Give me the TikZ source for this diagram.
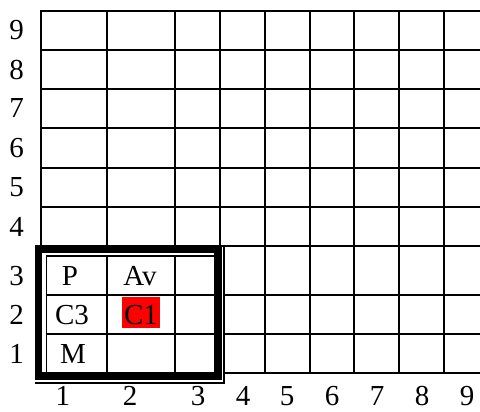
\documentclass[tikz,border=0pt]{standalone}
\usepackage{fontspec}
\setmainfont{Liberation Serif}
\usepackage{xcolor}

\tikzset{
  gridline/.style={line width=2pt, line cap=rect, black},
  frameline/.style={line width=7.5pt, black},
  thinline/.style={line width=1.7pt, line cap=rect, black},
  lbl/.style={inner sep=0pt, font=\fontsize{29}{29}\selectfont},
}

\begin{document}
\begin{tikzpicture}[x=1pt, y=-1pt]
    \useasboundingbox (0,0) rectangle (480,412);
    \begin{scope}
    \clip (0,0) rectangle (480,412);

    % Upper grid (rows 4 to 9)
    \foreach \x in {40.7,107.3,175,220,265,310,354,399,444,489}
        \draw[gridline] (\x,11) -- (\x,246);
    \foreach \y in {11,50,89,128,168,207,246}
        \draw[gridline] (40.7,\y) -- (490,\y);

    % Lower grid right of the frame
    \foreach \x in {265,310,354,399,444,489}
        \draw[gridline] (\x,246) -- (\x,372.5);
    \foreach \y in {295,334,372.5}
        \draw[gridline] (224.2,\y) -- (490,\y);
    \end{scope}

    % Highlighted cell
    \fill[red] (122,297.3) rectangle (160,328.3);

    % Inner table
    \draw[thinline] (46.5,372.3) -- (46.5,256.3) -- (214.3,256.3);
    \foreach \x in {107.3,175}
        \draw[thinline] (\x,256.3) -- (\x,372.3);
    \foreach \y in {295,334}
        \draw[thinline] (46.5,\y) -- (214.3,\y);

    % Frame
    \draw[frameline] (38.3,249.2) rectangle (218,376.2);
    \draw[line width=1.7pt] (224.2,245) -- (224.2,383.2) -- (35,383.2);

    % Row labels
    \node[lbl] (r9) at (16.5,30.5) {9};
    \node[lbl] (r8) at (16.5,69.5) {8};
    \node[lbl] (r7) at (16.5,108.5) {7};
    \node[lbl] (r6) at (16.5,148) {6};
    \node[lbl] (r5) at (16.5,187.5) {5};
    \node[lbl] (r4) at (16.5,226.5) {4};
    \node[lbl] (r3) at (16.5,276) {3};
    \node[lbl] (r2) at (16.5,315) {2};
    \node[lbl] (r1) at (16.5,354) {1};

    % Column labels
    \node[lbl] (c1) at (63,396) {1};
    \node[lbl] (c2) at (130,396) {2};
    \node[lbl] (c3) at (198,396) {3};
    \node[lbl] (c4) at (243,396) {4};
    \node[lbl] (c5) at (287,396) {5};
    \node[lbl] (c6) at (332,396) {6};
    \node[lbl] (c7) at (377,396) {7};
    \node[lbl] (c8) at (422,396) {8};
    \node[lbl] (c9) at (467,396) {9};

    % Cell entries
    \node[lbl] (P) at (70,276) {P};
    \node[lbl] (Av) at (140,276) {Av};
    \node[lbl] (C3) at (72,315) {C3};
    \node[lbl] (C1) at (141,315) {C1};
    \node[lbl] (M) at (73,354) {M};
\end{tikzpicture}
\end{document}
